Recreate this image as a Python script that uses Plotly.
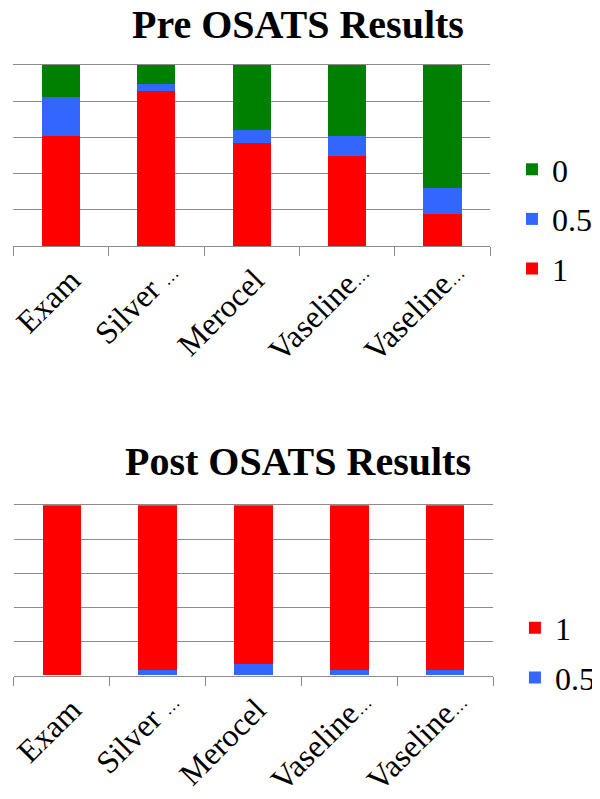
import plotly.graph_objects as go

categories = ["Exam", "Silver …", "Merocel", "Vaseline…", "Vaseline…"]

pre_1 = [60.5, 85.6, 56.8, 50.0, 17.7]
pre_05 = [21.6, 3.7, 7.4, 10.5, 14.4]
pre_0 = [17.9, 10.7, 35.8, 39.5, 67.9]

post_05 = [0, 3.5, 7.0, 3.5, 3.5]
post_1 = [100, 96.5, 93.0, 96.5, 96.5]

RED = "#FF0000"
BLUE = "#3366FF"
GREEN = "#008000"
GRID = "#8C8C8C"
FONT = "Liberation Serif"

# page body has an 8px margin; work in reference pixels and convert
OFF = 8.0
W = 592.0
H = 791.0


def px(x):
    return (x - OFF) / W


def py(y):
    return 1 - (y - OFF) / H


idx = list(range(len(categories)))
ell_idx = [i for i, c in enumerate(categories) if "…" in c]
first_idx = [0]
rest_idx = [i for i in idx if i not in ell_idx and i not in first_idx]

# (indices, label shift along axis, standoff) for each label layer
label_layers = [(rest_idx, 3, 8), (first_idx, 10, 8), (ell_idx, 12, 0)]


def label_text(c):
    return c.replace("…", "<span style='font-size:17px'>…</span>")


fig = go.Figure()


def add(y, name, color, xa, ya, legend, group, rank):
    fig.add_trace(go.Bar(x=idx, y=y, name=name, marker=dict(color=color, line=dict(width=0)),
                         xaxis=xa, yaxis=ya, legend=legend, legendgroup=group, legendrank=rank))


add(pre_1, "1", RED, "x", "y", "legend", "p1", 3)
add(pre_05, "0.5", BLUE, "x", "y", "legend", "p05", 2)
add(pre_0, "0", GREEN, "x", "y", "legend", "p0", 1)
add(post_05, "0.5", BLUE, "x2", "y2", "legend2", "q05", 2)
add(post_1, "1", RED, "x2", "y2", "legend2", "q1", 1)

TICKFONT = dict(family=FONT, size=32, color="black")
RNG = [-0.5, len(categories) - 0.5]


def xaxis(dom, anchor):
    return dict(domain=dom, anchor=anchor, type="linear", range=RNG,
                tickmode="array", tickvals=[], showticklabels=False, ticks="",
                minor=dict(tickmode="array", tickvals=[i - 0.5 for i in idx] + [len(idx) - 0.5],
                           ticks="outside", ticklen=9, tickcolor=GRID, tickwidth=1, showgrid=False),
                showline=True, mirror=True, linecolor=GRID, linewidth=1, showgrid=False,
                zeroline=False, automargin=False, fixedrange=True)


def xlabels(base, anchor, vals, shift, standoff):
    return dict(overlaying=base, anchor=anchor, type="linear", range=RNG,
                tickmode="array", tickvals=vals, ticktext=[label_text(categories[i]) for i in vals],
                ticks="", tickangle=-45, tickfont=TICKFONT, ticklabelstandoff=standoff,
                ticklabelshift=shift, ticklabeloverflow="allow",
                showline=False, showgrid=False, zeroline=False, automargin=False, fixedrange=True,
                side="bottom")


def yaxis(dom, anchor):
    return dict(domain=dom, anchor=anchor, range=[0, 100], tickvals=[0, 20, 40, 60, 80, 100],
                showticklabels=False, showgrid=True, gridcolor=GRID, gridwidth=1, zeroline=False,
                showline=False, ticks="", automargin=False, fixedrange=True)


layout_axes = dict(
    xaxis=xaxis([px(13.3), px(496)], "y"),
    yaxis=yaxis([py(246), py(65)], "x"),
    xaxis2=xaxis([px(13.8), px(499)], "y2"),
    yaxis2=yaxis([py(675.5), py(505.3)], "x2"),
)

n = 3
for base, ya in (("x", "y"), ("x2", "y2")):
    for vals, shift, standoff in label_layers:
        name = "x%d" % n
        layout_axes["xaxis%d" % n] = xlabels(base, ya, vals, shift, standoff)
        # invisible carrier so the label axis gets drawn
        fig.add_trace(go.Scatter(x=vals, y=[0] * len(vals), mode="markers",
                                 marker=dict(opacity=0, size=1), xaxis=name, yaxis=ya,
                                 showlegend=False, hoverinfo="skip"))
        n += 1

legend_common = dict(font=dict(family=FONT, size=32, color="black"), traceorder="grouped",
                     tracegroupgap=5, bgcolor="rgba(0,0,0,0)", borderwidth=0,
                     xanchor="left", yanchor="middle")

fig.update_layout(
    width=int(W), height=int(H),
    margin=dict(l=0, r=0, t=0, b=0),
    paper_bgcolor="white", plot_bgcolor="white",
    barmode="stack", bargap=0.6,
    legend=dict(legend_common, x=px(518), y=py(219)),
    legend2=dict(legend_common, x=px(521), y=py(653)),
    annotations=[
        dict(text="<b>Pre OSATS Results</b>", x=px(301), y=py(25), xref="paper", yref="paper",
             showarrow=False, xanchor="center", yanchor="middle",
             font=dict(family=FONT, size=40, color="black")),
        dict(text="<b>Post OSATS Results</b>", x=px(301), y=py(461), xref="paper", yref="paper",
             showarrow=False, xanchor="center", yanchor="middle",
             font=dict(family=FONT, size=40, color="black")),
    ],
    **layout_axes,
)

fig.write_html("out.html")
